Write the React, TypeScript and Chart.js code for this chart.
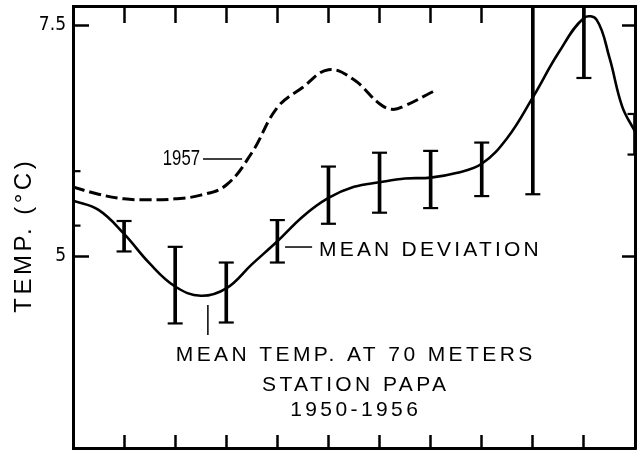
import React, { useEffect, useRef } from 'react';
import { Chart, registerables } from 'chart.js';

Chart.register(...registerables);

// ---- data ----
const MONTHS = [0, 1, 2, 3, 4, 5, 6, 7, 8, 9, 10, 11];
const ERR_HIGH = [5.92, 5.38, 5.10, 4.93, 5.39, 5.97, 6.12, 6.14, 6.23, 7.8, 7.8, 6.54];
const ERR_LOW = [5.33, 5.05, 4.27, 4.28, 4.93, 5.35, 5.47, 5.52, 5.65, 5.67, 6.93, 6.10];
const CAP_HIGH = [5.92, 5.38, 5.10, 4.93, 5.39, 5.97, 6.12, 6.14, 6.23, null, null, 6.54];

const MEAN_X = [0, 0.5, 1, 1.5, 2, 2.5, 3, 3.5, 4, 4.5, 5, 5.5, 6, 6.5, 7, 7.5, 8, 8.5, 9, 9.5, 10, 10.25, 10.5, 10.75, 11];
const MEAN_T = [5.60, 5.50, 5.24, 4.92, 4.67, 4.57, 4.65, 4.91, 5.16, 5.43, 5.63, 5.75, 5.80, 5.84, 5.85, 5.90, 6.00, 6.28, 6.72, 7.20, 7.58, 7.56, 7.15, 6.62, 6.35];

const Y1957_X = [0, 0.5, 1, 1.5, 2, 2.5, 3, 3.5, 4, 4.5, 5, 5.5, 6, 6.25, 6.5, 7, 7.1];
const Y1957_T = [5.75, 5.67, 5.62, 5.61, 5.62, 5.66, 5.77, 6.12, 6.61, 6.83, 7.02, 6.91, 6.65, 6.59, 6.63, 6.77, 6.80];

const Y_TICKS = [5, 7.5];
const Y_TICK_LABELS = ['5', '7.5'];
const Y_MIN = 2.92;
const Y_MAX = 7.71;

const Y_TITLE = 'TEMP. (°C)';
const LABEL_1957 = '1957';
const LABEL_DEV = 'MEAN DEVIATION';
const LABEL_MEAN = ['MEAN TEMP. AT 70 METERS', 'STATION PAPA', '1950-1956'];

const SANS = "'Liberation Sans', Arial, sans-serif";
const NARROW = "'Liberation Sans Narrow', 'DejaVu Sans Condensed', 'Liberation Sans', sans-serif";

const annotations = {
  id: 'annotations',
  afterDraw(chart: any) {
    const { ctx, chartArea } = chart;
    const x = chart.scales.x;
    const y = chart.scales.y;
    const px = (v: number) => x.getPixelForValue(v);
    const py = (v: number) => y.getPixelForValue(v);
    ctx.save();
    ctx.fillStyle = '#000';
    ctx.strokeStyle = '#000';
    ctx.textBaseline = 'middle';

    // y title
    ctx.save();
    ctx.translate(chartArea.left - 49, (chartArea.top + chartArea.bottom) / 2 + 10);
    ctx.rotate(-Math.PI / 2);
    ctx.font = `24px ${SANS}`;
    (ctx as any).letterSpacing = '3.5px';
    ctx.textAlign = 'center';
    ctx.fillText(Y_TITLE, 1.75, 0);
    ctx.restore();

    // 1957 label (condensed lettering) + leader
    ctx.save();
    ctx.translate(px(2.486), py(6.057));
    ctx.scale(0.76, 1);
    ctx.font = `22px ${SANS}`;
    ctx.textAlign = 'right';
    ctx.fillText(LABEL_1957, 0, 0);
    ctx.restore();
    ctx.lineWidth = 1.5;
    ctx.beginPath();
    ctx.moveTo(px(2.545), py(6.052));
    ctx.lineTo(px(3.31), py(6.052));
    ctx.stroke();

    // mean deviation label + leader
    ctx.beginPath();
    ctx.moveTo(px(4.15), py(5.098));
    ctx.lineTo(px(4.68), py(5.098));
    ctx.stroke();
    ctx.font = `21px ${SANS}`;
    (ctx as any).letterSpacing = '3.2px';
    ctx.textAlign = 'left';
    ctx.fillText(LABEL_DEV, px(4.815), py(5.066));

    // mean temp label + leader
    ctx.beginPath();
    ctx.moveTo(px(2.64), py(4.47));
    ctx.lineTo(px(2.64), py(4.145));
    ctx.stroke();
    (ctx as any).letterSpacing = '3.4px';
    ctx.textAlign = 'center';
    const lineT = [3.93, 3.60, 3.33];
    LABEL_MEAN.forEach((s, i) => ctx.fillText(s, px(5.5) + 1.7, py(lineT[i])));
    ctx.restore();
  },
};

export default function App() {
  const ref = useRef<HTMLCanvasElement | null>(null);
  useEffect(() => {
    if (!ref.current) return;
    const setTicks = (vals: number[]) => (scale: any) => {
      scale.ticks = vals.map((v) => ({ value: v }));
    };
    const fitV = (w: number) => (s: any) => {
      s.width = w;
      s.paddingTop = 0;
      s.paddingBottom = 0;
    };
    const fitH = (s: any) => {
      s.height = 0;
      s.paddingLeft = 0;
      s.paddingRight = 0;
    };
    const chart = new Chart(ref.current, {
      type: 'bar',
      data: {
        datasets: [
          {
            type: 'line',
            data: MEAN_X.map((m, i) => ({ x: m, y: MEAN_T[i] })),
            borderColor: '#000',
            borderWidth: 2.6,
            pointRadius: 0,
            tension: 0.4,
            fill: false,
          } as any,
          {
            type: 'line',
            data: Y1957_X.map((m, i) => ({ x: m, y: Y1957_T[i] })),
            borderColor: '#000',
            borderWidth: 3,
            borderDash: [12, 5],
            pointRadius: 0,
            tension: 0.4,
            fill: false,
          } as any,
          {
            type: 'bar',
            data: MONTHS.map((m, i) => ({ x: m, y: [ERR_LOW[i], ERR_HIGH[i]] })),
            backgroundColor: '#000',
            borderWidth: 0,
            barThickness: 3,
            grouped: false,
          } as any,
          {
            type: 'line',
            data: MONTHS.map((m, i) => ({ x: m, y: CAP_HIGH[i] })),
            showLine: false,
            pointStyle: 'line',
            pointRadius: 7.5,
            pointBorderWidth: 2.2,
            pointBorderColor: '#000',
          } as any,
          {
            type: 'line',
            data: MONTHS.map((m, i) => ({ x: m, y: ERR_LOW[i] })),
            showLine: false,
            pointStyle: 'line',
            pointRadius: 7.5,
            pointBorderWidth: 2.2,
            pointBorderColor: '#000',
          } as any,
        ],
      },
      options: {
        animation: false,
        responsive: true,
        maintainAspectRatio: false,
        events: [],
        layout: { autoPadding: false, padding: { top: 6, right: 3, bottom: 3, left: 0 } },
        plugins: { legend: { display: false }, tooltip: { enabled: false } },
        scales: {
          x: {
            type: 'linear',
            position: 'bottom',
            offset: false,
            min: 0,
            max: 11,
            afterBuildTicks: setTicks(MONTHS),
            afterFit: fitH,
            ticks: { display: false },
            border: { display: true, width: 3, color: '#000' },
            grid: { offset: false, drawOnChartArea: false, drawTicks: true, tickLength: -13, tickWidth: 2.5, color: '#000' },
          },
          xTop: {
            type: 'linear',
            position: 'top',
            offset: false,
            min: 0,
            max: 11,
            afterBuildTicks: setTicks(MONTHS),
            afterFit: fitH,
            ticks: { display: false },
            border: { display: true, width: 3, color: '#000' },
            grid: { offset: false, drawOnChartArea: false, drawTicks: true, tickLength: -17, tickWidth: 2.5, color: '#000' },
          },
          y: {
            type: 'linear',
            position: 'left',
            min: Y_MIN,
            max: Y_MAX,
            afterBuildTicks: setTicks(Y_TICKS),
            afterFit: fitV(73),
            ticks: {
              color: '#000',
              padding: 23,
              font: { family: NARROW, size: 19 },
              callback: (v: any) => Y_TICK_LABELS[Y_TICKS.indexOf(Number(v))] ?? '',
            },
            border: { display: true, width: 3, color: '#000' },
            grid: { drawOnChartArea: false, drawTicks: true, tickLength: -16, tickWidth: 2.5, color: '#000' },
          },
          yRight: {
            type: 'linear',
            position: 'right',
            min: Y_MIN,
            max: Y_MAX,
            afterBuildTicks: setTicks(Y_TICKS),
            afterFit: fitV(0),
            ticks: { display: false },
            border: { display: true, width: 3, color: '#000' },
            grid: { drawOnChartArea: false, drawTicks: true, tickLength: -13, tickWidth: 2.5, color: '#000' },
          },
        },
      } as any,
      plugins: [annotations],
    });
    return () => chart.destroy();
  }, []);

  return (
    <div style={{ position: 'absolute', left: 0, top: 0, width: 638, height: 451, background: '#fff' }}>
      <canvas ref={ref} />
    </div>
  );
}
